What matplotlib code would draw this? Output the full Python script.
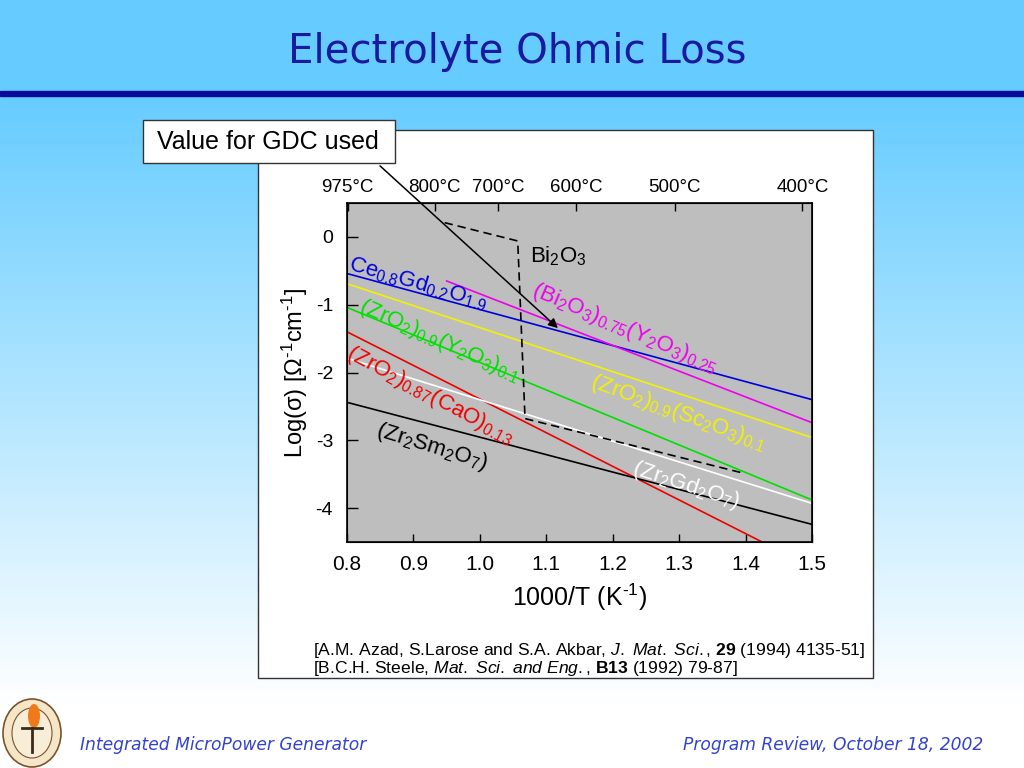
#!/usr/bin/env python
"""Electrolyte ohmic loss slide: log conductivity vs 1000/T for oxide electrolytes."""
import numpy as np
import matplotlib
matplotlib.use("Agg")
import matplotlib.pyplot as plt
from matplotlib.patches import Rectangle, Ellipse

plt.rcParams["font.family"] = ["Liberation Sans", "DejaVu Sans"]
plt.rcParams["mathtext.fontset"] = "custom"
plt.rcParams["mathtext.rm"] = "Liberation Sans"
plt.rcParams["mathtext.it"] = "Liberation Sans:italic"
plt.rcParams["mathtext.bf"] = "Liberation Sans:bold"

# ---- data (x = 1000/T, y = log sigma) ----
ceo_x = [0.80, 1.50];   ceo_y = [-0.54, -2.40]     # Ce0.8Gd0.2O1.9
ssz_x = [0.80, 1.50];   ssz_y = [-0.69, -2.96]     # (ZrO2)0.9(Sc2O3)0.1
ysz_x = [0.80, 1.50];   ysz_y = [-1.04, -3.88]     # (ZrO2)0.9(Y2O3)0.1
csz_x = [0.80, 1.425];  csz_y = [-1.40, -4.50]     # (ZrO2)0.87(CaO)0.13
zgd_x = [0.80, 1.50];   zgd_y = [-1.79, -3.93]     # Zr2Gd2O7
zsm_x = [0.80, 1.50];   zsm_y = [-2.44, -4.24]     # Zr2Sm2O7
byo_x = [0.95, 1.50];   byo_y = [-0.65, -2.74]     # (Bi2O3)0.75(Y2O3)0.25
bi_x = [0.947, 1.057, 1.068, 1.399]                 # Bi2O3 (dashed)
bi_y = [0.21, -0.06, -2.68, -3.49]

xticks = [0.8, 0.9, 1.0, 1.1, 1.2, 1.3, 1.4, 1.5]
yticks = [0, -1, -2, -3, -4]
top_temps_c = [975, 800, 700, 600, 500, 400]

W, H = 1024, 768
fig = plt.figure(figsize=(W / 100, H / 100), dpi=100)

# ---- slide background (pixel coords) ----
bg = fig.add_axes([0, 0, 1, 1], zorder=0)
bg.set_xlim(0, W); bg.set_ylim(H, 0); bg.axis("off")
t = np.clip((np.arange(H) - 95) / 610.0, 0, 1)[:, None]
top = np.array([102, 204, 255]) / 255.0
grad = top + (1 - top) * t
bg.imshow(np.repeat(grad[:, None, :], 2, axis=1).reshape(H, 2, 3),
          extent=(0, W, H, 0), aspect="auto", zorder=0)
bg.add_patch(Rectangle((0, 0), W, 92, color="#66CCFF", zorder=1))
bg.add_patch(Rectangle((0, 91), W, 5, color="#0A0A9A", zorder=2))
bg.text(517, 52, "Electrolyte Ohmic Loss", family="DejaVu Sans", fontsize=29,
        color="#1A1AA0", ha="center", va="center", zorder=3)
bg.add_patch(Rectangle((258, 130), 615, 548, facecolor="white", edgecolor="#333333",
                       lw=1.0, zorder=2))
bg.text(313, 650, r"[A.M. Azad, S.Larose and S.A. Akbar, $\mathit{J.\ Mat.\ Sci.}$, "
        r"$\mathbf{29}$ (1994) 4135-51]", fontsize=12.6, va="center", zorder=3)
bg.text(313, 668, r"[B.C.H. Steele, $\mathit{Mat.\ Sci.\ and\ Eng.}$, "
        r"$\mathbf{B13}$ (1992) 79-87]", fontsize=12.6, va="center", zorder=3)
# footer
bg.text(80, 745, "Integrated MicroPower Generator", family="DejaVu Sans", style="italic",
        fontsize=12.3, color="#3344CC", va="center", zorder=3)
bg.text(983, 745, "Program Review, October 18, 2002", family="DejaVu Sans", style="italic",
        fontsize=12.3, color="#3344CC", va="center", ha="right", zorder=3)
bg.add_patch(Ellipse((32, 733), 58, 68, facecolor="#F4E6C6", edgecolor="#7A5230", lw=1.2, zorder=3))
bg.add_patch(Ellipse((32, 733), 40, 50, facecolor="#F8EED8", edgecolor="#7A5230", lw=0.8, zorder=3))
bg.add_patch(Ellipse((34, 716), 12, 24, facecolor="#F07A1A", edgecolor="none", zorder=4))
bg.plot([32, 32], [728, 752], color="#3A2A1A", lw=2, zorder=4)
bg.plot([22, 42], [728, 728], color="#3A2A1A", lw=2, zorder=4)

# ---- main plot ----
L, R, T, B = 347, 812, 203, 542
ax = fig.add_axes([L / W, 1 - B / H, (R - L) / W, (B - T) / H], zorder=2)
ax.set_facecolor("#BEBEBE")
lw = 1.2
ax.plot(ceo_x, ceo_y, color="#0000DD", lw=lw)
ax.plot(ssz_x, ssz_y, color="#F2F200", lw=lw)
ax.plot(ysz_x, ysz_y, color="#00E000", lw=lw)
ax.plot(csz_x, csz_y, color="#EE0000", lw=lw)
ax.plot(zgd_x, zgd_y, color="white", lw=lw)
ax.plot(zsm_x, zsm_y, color="black", lw=lw)
ax.plot(byo_x, byo_y, color="#EE00EE", lw=lw)
ax.plot(bi_x, bi_y, color="black", lw=lw, ls=(0, (5, 3)))
ax.set_xlim(0.8, 1.5); ax.set_ylim(-4.5, 0.5)

ax.set_xticks(xticks); ax.set_xticklabels([f"{v:.1f}" for v in xticks])
ax.set_yticks(yticks); ax.set_yticklabels([f"{v:d}" for v in yticks])
ax.tick_params(axis="x", direction="in", length=6, width=1, labelsize=15, pad=9)
ax.tick_params(axis="y", direction="in", length=8, width=1, labelsize=14, pad=10)
for s in ax.spines.values():
    s.set_linewidth(1.2)
ax.set_xlabel(r"1000/T (K$^{\text{-1}}$)", fontsize=18, labelpad=6)
ax.set_ylabel(r"Log(σ) [Ω$^{\text{-1}}$cm$^{\text{-1}}$]", fontsize=17, labelpad=4)

axt = ax.twiny()
axt.set_xlim(ax.get_xlim())
axt.set_xticks([1000.0 / (c + 273.15) for c in top_temps_c])
axt.set_xticklabels([f"{c}°C" for c in top_temps_c])
axt.tick_params(axis="x", direction="in", length=6, width=1, labelsize=13.5, pad=5)

# in-plot labels
lab = dict(ha="center", va="center", rotation_mode="anchor", fontsize=16)
ax.text(0.907, -0.68, r"Ce$_{\mathit{0.8}}$Gd$_{\mathit{0.2}}$O$_{\mathit{1.9}}$",
        color="#0000DD", rotation=-16, **lab)
ax.text(0.940, -1.53, r"(ZrO$_{2}$)$_{\mathit{0.9}}$(Y$_{2}$O$_{3}$)$_{\mathit{0.1}}$",
        color="#00E000", rotation=-24, **lab)
ax.text(0.925, -2.34, r"(ZrO$_{2}$)$_{\mathit{0.87}}$(CaO)$_{\mathit{0.13}}$",
        color="#EE0000", rotation=-28, **lab)
ax.text(0.928, -3.10, r"(Zr$_{2}$Sm$_{2}$O$_{7}$)", color="black", rotation=-17, **lab)
ax.text(1.118, -0.28, r"Bi$_{2}$O$_{3}$", color="black", rotation=0, **lab)
ax.text(1.218, -1.35, r"(Bi$_{2}$O$_{3}$)$_{\mathit{0.75}}$(Y$_{2}$O$_{3}$)$_{\mathit{0.25}}$",
        color="#EE00EE", rotation=-23, **lab)
ax.text(1.299, -2.60, r"(ZrO$_{2}$)$_{\mathit{0.9}}$(Sc$_{2}$O$_{3}$)$_{\mathit{0.1}}$",
        color="#F2F200", rotation=-20, **lab)
ax.text(1.310, -3.66, r"(Zr$_{2}$Gd$_{2}$O$_{7}$)", color="white", rotation=-18, **lab)

# ---- callout and arrow (overlay, pixel coords) ----
ov = fig.add_axes([0, 0, 1, 1], zorder=3)
ov.set_xlim(0, W); ov.set_ylim(H, 0); ov.axis("off"); ov.patch.set_alpha(0)
ov.add_patch(Rectangle((143, 120), 252, 43, facecolor="white", edgecolor="#333333", lw=1.0))
ov.text(268, 142, "Value for GDC used", fontsize=18, ha="center", va="center")
ov.annotate("", xy=(560, 330), xytext=(378, 164),
            arrowprops=dict(arrowstyle="-|>", color="black", lw=1.1, mutation_scale=14))

fig.savefig("out.png", dpi=100)
